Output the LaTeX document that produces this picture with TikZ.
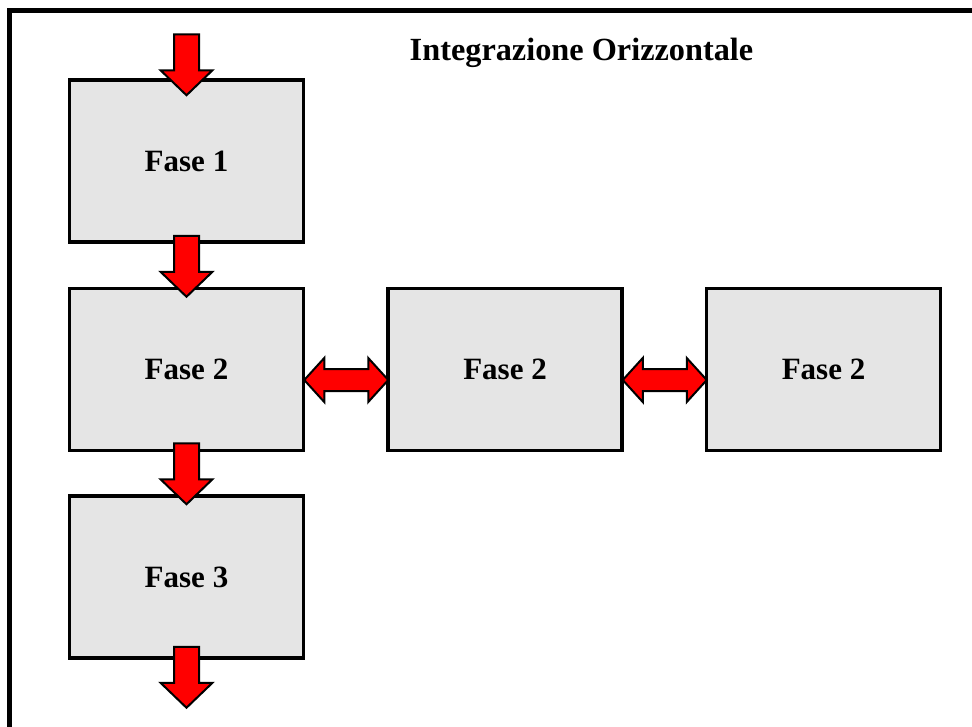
\documentclass[tikz,border=0pt]{standalone}
\usepackage{fontspec}
\setmainfont{Liberation Serif}
\usetikzlibrary{calc}
\begin{document}
\begin{tikzpicture}[x=1pt,y=-1pt,
  phase/.style={draw=black, line width=3.5pt, fill=black!10, minimum width=234pt,
    minimum height=162pt, inner sep=0pt, font=\fontsize{31}{36}\selectfont\bfseries},
  fat/.style={draw=black, line width=2pt, fill=red, line join=miter},
  downarrow/.pic={\path[fat] (-12.5,0) -- (12.5,0) -- (12.5,36) -- (26,36) -- (0,61)
    -- (-26,36) -- (-12.5,36) -- cycle;},
  twoway/.pic={\path[fat] (0,0) -- (20,-22) -- (20,-11) -- (64,-11) -- (64,-22) -- (84,0)
    -- (64,22) -- (64,11) -- (20,11) -- (20,22) -- cycle;}
]
\clip (0,0) rectangle (972,726);
\fill[white] (0,0) rectangle (972,726);
% outer frame, running past the right and bottom edges
\draw[line width=5pt] (9.5,760) -- (9.5,10.5) -- (1000,10.5);

\node[font=\fontsize{32.3}{38}\selectfont\bfseries, anchor=base, inner sep=0pt]
  (title) at (581.5,60) {Integrazione Orizzontale};

\node[phase] (f1)  at (186.5,161) {Fase 1};
\node[phase] (f2)  at (186.5,369.5) {Fase 2};
\node[phase] (f3)  at (186.5,577) {Fase 3};
\node[phase] (f2b) at (505,369.5) {Fase 2};
\node[phase] (f2c) at (823.5,369.5) {Fase 2};

\pic at ($(f1.north)+(0,-44)$) {downarrow};
\pic at ($(f1.south)+(0,-8)$) {downarrow};
\pic at ($(f2.south)+(0,-9)$) {downarrow};
\pic at ($(f3.south)+(0,-13)$) {downarrow};

\pic at ($(f2.east)+(-1,10.5)$) {twoway};
\pic at ($(f2b.east)+(-1,10.5)$) {twoway};
\end{tikzpicture}
\end{document}
